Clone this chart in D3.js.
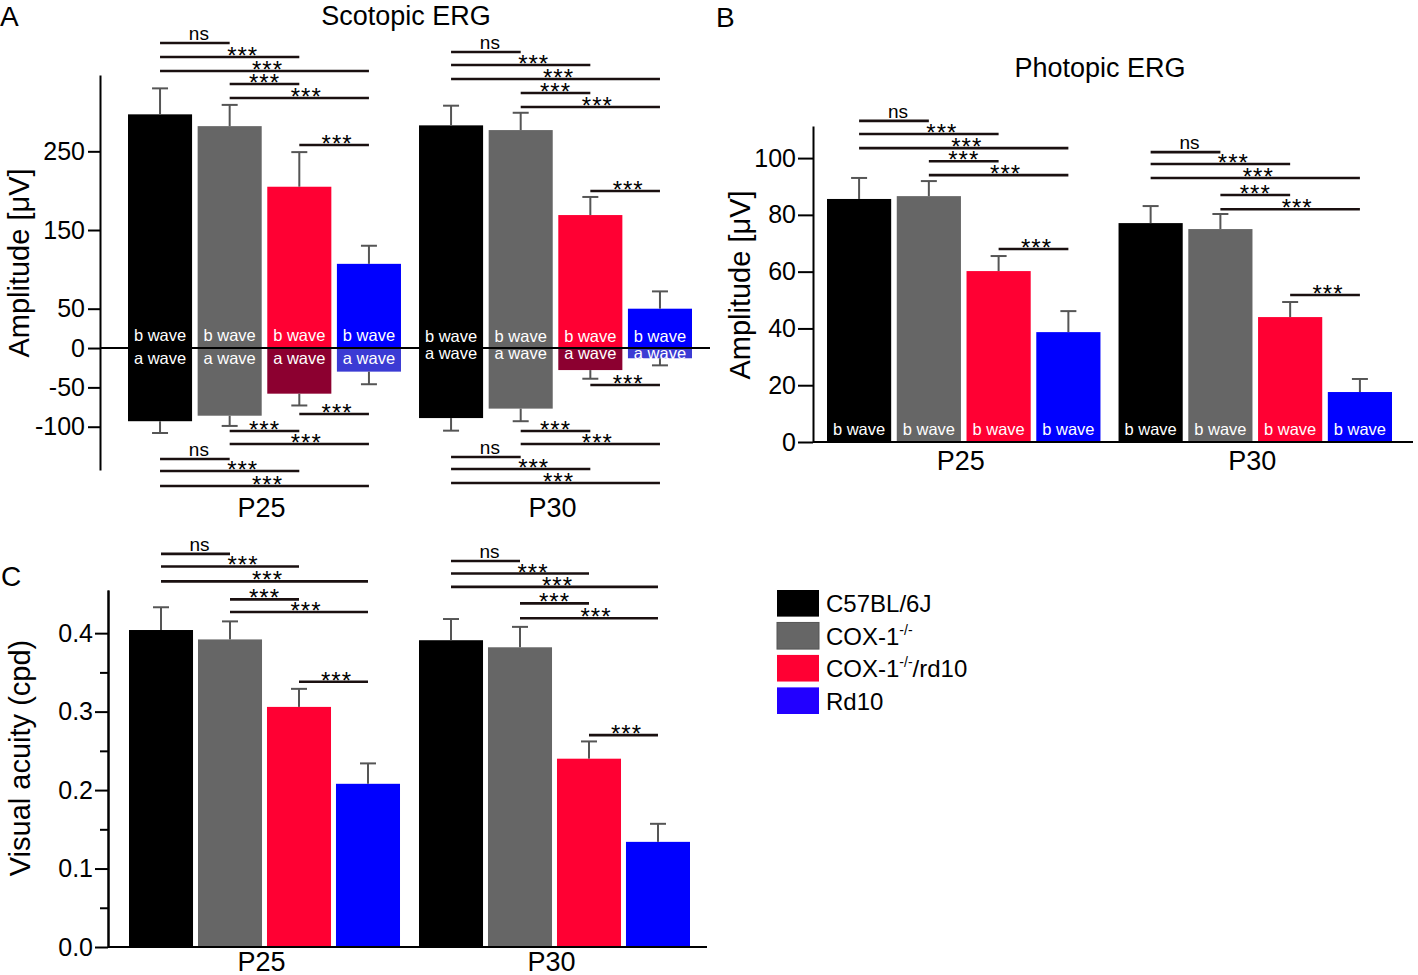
<!DOCTYPE html>
<html>
<head>
<meta charset="utf-8">
<script src="https://cdn.jsdelivr.net/npm/d3@7"></script>
<style>
  body { margin: 0; background: #fff; }
  text { font-family: "Liberation Sans", Arial, sans-serif; }
</style>
</head>
<body>
<script>
// groups, strains, colours
var groups = ["P25", "P30"];
var strains = ["C57BL/6J", "COX-1", "COX-1", "Rd10"];
var strainSup = ["", "-/-", "-/-", ""];
var strainTail = ["", "", "/rd10", ""];
var barColors = ["#000000", "#666666", "#ff0033", "#0000ff"];
var aWaveColors = ["#000000", "#666666", "#8c0030", "#3b3bd4"];
var legendColors = ["#000000", "#666666", "#ff0033", "#2200ff"];

// Scotopic ERG (uV), one row per group
var scotB = [[297, 282, 205, 107], [283, 277, 169, 50]];
var scotBErr = [[33, 27, 44, 23], [25, 22, 23, 22]];
var scotA = [[-93, -86, -58, -30], [-89, -77, -28, -13]];
var scotAErr = [[15, 13, 15, 16], [16, 16, 11, 9]];

// Photopic ERG b wave (uV)
var photB = [[85.6, 86.6, 60.2, 38.7], [77.1, 75.0, 44.0, 17.6]];
var photBErr = [[7.4, 5.3, 5.3, 7.4], [6.0, 5.3, 5.3, 4.6]];

// Visual acuity (cpd)
var acuity = [[0.404, 0.392, 0.306, 0.208], [0.391, 0.382, 0.240, 0.134]];
var acuityErr = [[0.029, 0.023, 0.023, 0.026], [0.027, 0.026, 0.022, 0.023]];

// pairwise comparisons: [strain i, strain j, label]
var comparisons = [[0, 1, "ns"], [0, 2, "***"], [0, 3, "***"], [1, 2, "***"], [1, 3, "***"], [2, 3, "***"]];
// bracket heights in data units, same order as comparisons
var scotTopLevels = [[387.6, 369.8, 352.1, 335.5, 317.7, 258], [376.2, 359.7, 341.9, 324.2, 306.3, 199.6]];
var scotBottomLevels = [[-141, -156.3, -175.3, -105.4, -122, -83.8], [-138.5, -153.7, -171.5, -105.4, -122, -47]];
var photLevels = [[113.1, 108.5, 103.5, 98.9, 94.0, 68.0], [102.1, 97.9, 93.0, 87.0, 82.0, 51.8]];
var acuityLevels = [[0.501, 0.485, 0.466, 0.443, 0.427, 0.338], [0.492, 0.476, 0.459, 0.438, 0.419, 0.270]];

var scotTicks = [250, 150, 50, 0, -50, -100];
var photTicks = [0, 20, 40, 60, 80, 100];
var acuityTicks = [0, 0.1, 0.2, 0.3, 0.4];
var acuityMinor = [0.05, 0.15, 0.25, 0.35];

var labelShift = [4, 13, 3, 0, 7, 3];

var svg = d3.select("body").append("svg")
    .attr("width", 1418)
    .attr("height", 975);

function center(xo, xi, g, s) {
    return xo(groups[g]) + xi(s) + xi.bandwidth() / 2;
}

function drawBars(g, xo, xi, y, values, errs, colors) {
    groups.forEach(function(grp, gi) {
        values[gi].forEach(function(v, si) {
            var x = xo(grp) + xi(si);
            g.append("rect")
                .attr("x", x)
                .attr("y", Math.min(y(0), y(v)))
                .attr("width", xi.bandwidth())
                .attr("height", Math.abs(y(v) - y(0)))
                .attr("fill", colors[si]);
        });
    });
}

function drawErrors(g, xo, xi, y, values, errs) {
    groups.forEach(function(grp, gi) {
        values[gi].forEach(function(v, si) {
            var cx = center(xo, xi, gi, si);
            var end = v + (v < 0 ? -errs[gi][si] : errs[gi][si]);
            g.append("line")
                .attr("x1", cx).attr("x2", cx)
                .attr("y1", y(v)).attr("y2", y(end))
                .attr("stroke", "#555").attr("stroke-width", 2);
            g.append("line")
                .attr("x1", cx - 8).attr("x2", cx + 8)
                .attr("y1", y(end)).attr("y2", y(end))
                .attr("stroke", "#555").attr("stroke-width", 2);
        });
    });
}

function drawBrackets(g, xo, xi, y, levels) {
    groups.forEach(function(grp, gi) {
        comparisons.forEach(function(c, k) {
            var x1 = center(xo, xi, gi, c[0]);
            var x2 = center(xo, xi, gi, c[1]);
            var yy = y(levels[gi][k]);
            g.append("line")
                .attr("x1", x1).attr("x2", x2)
                .attr("y1", yy).attr("y2", yy)
                .attr("stroke", "#1a1010").attr("stroke-width", 2.6);
            var t = g.append("text")
                .attr("x", (x1 + x2) / 2 + labelShift[k])
                .attr("text-anchor", "middle")
                .text(c[2]);
            if (c[2] == "ns") {
                t.attr("y", yy - 3).attr("font-size", 19);
            } else {
                t.attr("y", yy + 7).attr("font-size", 24).attr("letter-spacing", 1);
            }
        });
    });
}

function styleAxis(a, fs) {
    a.selectAll("path, line").attr("stroke", "#000").attr("stroke-width", 2);
    a.selectAll("text").attr("font-size", fs).attr("fill", "#000")
        .attr("font-family", "Liberation Sans, Arial, sans-serif");
}

function waveLabels(g, xo, xi, y, text, dys) {
    groups.forEach(function(grp, gi) {
        d3.range(4).forEach(function(si) {
            g.append("text")
                .attr("x", center(xo, xi, gi, si))
                .attr("y", y(0) + dys[gi])
                .attr("text-anchor", "middle")
                .attr("font-size", 16.5)
                .attr("fill", "#fff")
                .text(text);
        });
    });
}

function groupLabels(g, xo, yb) {
    groups.forEach(function(grp) {
        g.append("text")
            .attr("x", xo(grp) + xo.bandwidth() / 2 - 3)
            .attr("y", yb)
            .attr("text-anchor", "middle")
            .attr("font-size", 27)
            .text(grp);
    });
}

// ---------- A: Scotopic ERG
var gA = svg.append("g");
var xA = d3.scaleBand().domain(groups).range([128, 692]).paddingInner(0.062);
var xAi = d3.scaleBand().domain(d3.range(4)).range([0, xA.bandwidth()]).paddingInner(0.08);
var yA = d3.scaleLinear().domain([-155, 347]).range([470, 75]);

drawBars(gA, xA, xAi, yA, scotB, scotBErr, barColors);
drawBars(gA, xA, xAi, yA, scotA, scotAErr, aWaveColors);
drawErrors(gA, xA, xAi, yA, scotB, scotBErr);
drawErrors(gA, xA, xAi, yA, scotA, scotAErr);

gA.append("line")
    .attr("x1", 100).attr("x2", 710)
    .attr("y1", yA(0)).attr("y2", yA(0))
    .attr("stroke", "#000").attr("stroke-width", 2);

waveLabels(gA, xA, xAi, yA, "b wave", [-7, -6]);
var aw = gA.append("g");
waveLabels(aw, xA, xAi, yA, "a wave", [16, 11]);

drawBrackets(gA, xA, xAi, yA, scotTopLevels);
drawBrackets(gA, xA, xAi, yA, scotBottomLevels);

var axA = gA.append("g").attr("transform", "translate(100,0)")
    .call(d3.axisLeft(yA).tickValues(scotTicks).tickSize(12).tickPadding(3)
        .tickSizeOuter(0).tickFormat(function(d) { return String(d); }));
styleAxis(axA, 25);

gA.append("text")
    .attr("transform", "translate(29," + 263 + ") rotate(-90)")
    .attr("text-anchor", "middle")
    .attr("font-size", 29)
    .text("Amplitude [μV]");
gA.append("text").attr("x", 406).attr("y", 25).attr("text-anchor", "middle")
    .attr("font-size", 27).text("Scotopic ERG");
groupLabels(gA, xA, 517);

// ---------- B: Photopic ERG
var gB = svg.append("g");
var xB = d3.scaleBand().domain(groups).range([827, 1392]).paddingInner(0.062);
var xBi = d3.scaleBand().domain(d3.range(4)).range([0, xB.bandwidth()]).paddingInner(0.08);
var yB = d3.scaleLinear().domain([0, 111.3]).range([442, 126]);

drawBars(gB, xB, xBi, yB, photB, photBErr, barColors);
drawErrors(gB, xB, xBi, yB, photB, photBErr);
waveLabels(gB, xB, xBi, yB, "b wave", [-7, -7]);
drawBrackets(gB, xB, xBi, yB, photLevels);

gB.append("line")
    .attr("x1", 813).attr("x2", 1413)
    .attr("y1", yB(0)).attr("y2", yB(0))
    .attr("stroke", "#000").attr("stroke-width", 2);
var axB = gB.append("g").attr("transform", "translate(813,0)")
    .call(d3.axisLeft(yB).tickValues(photTicks).tickSize(15).tickPadding(2).tickSizeOuter(0));
styleAxis(axB, 25);

gB.append("text")
    .attr("transform", "translate(750," + 285 + ") rotate(-90)")
    .attr("text-anchor", "middle")
    .attr("font-size", 29)
    .text("Amplitude [μV]");
gB.append("text").attr("x", 1100).attr("y", 77).attr("text-anchor", "middle")
    .attr("font-size", 27).text("Photopic ERG");
groupLabels(gB, xB, 470);

// ---------- C: Visual acuity
var gC = svg.append("g");
var xC = d3.scaleBand().domain(groups).range([129, 690]).paddingInner(0.0655);
var xCi = d3.scaleBand().domain(d3.range(4)).range([0, xC.bandwidth()]).paddingInner(0.072);
var yC = d3.scaleLinear().domain([0, 0.455]).range([947, 590]);

drawBars(gC, xC, xCi, yC, acuity, acuityErr, barColors);
drawErrors(gC, xC, xCi, yC, acuity, acuityErr);
drawBrackets(gC, xC, xCi, yC, acuityLevels);

gC.append("line")
    .attr("x1", 108).attr("x2", 707)
    .attr("y1", yC(0)).attr("y2", yC(0))
    .attr("stroke", "#000").attr("stroke-width", 2);
var axC = gC.append("g").attr("transform", "translate(108,0)")
    .call(d3.axisLeft(yC).tickValues(acuityTicks).tickSize(13).tickPadding(2)
        .tickSizeOuter(0).tickFormat(d3.format(".1f")));
styleAxis(axC, 25);
var axCm = gC.append("g").attr("transform", "translate(108,0)")
    .call(d3.axisLeft(yC).tickValues(acuityMinor).tickSize(8).tickSizeOuter(0).tickFormat(""));
styleAxis(axCm, 25);

gC.append("text")
    .attr("transform", "translate(30," + 758 + ") rotate(-90)")
    .attr("text-anchor", "middle")
    .attr("font-size", 29)
    .text("Visual acuity (cpd)");
groupLabels(gC, xC, 971);

// ---------- legend
var leg = svg.append("g");
var ly = d3.scaleBand().domain(d3.range(4)).range([590, 714]).paddingInner(0.18);
strains.forEach(function(s, i) {
    leg.append("rect")
        .attr("x", 777).attr("y", ly(i))
        .attr("width", 42).attr("height", ly.bandwidth())
        .attr("fill", legendColors[i])
        .attr("stroke", i == 1 ? "#555" : "none");
    var t = leg.append("text")
        .attr("x", 826)
        .attr("y", ly(i) + ly.bandwidth() / 2 + 9)
        .attr("font-size", 24)
        .text(s);
    if (strainSup[i]) {
        t.append("tspan").attr("font-size", 14).attr("dy", -10).text(strainSup[i]);
        t.append("tspan").attr("dy", 10).text(strainTail[i]);
    }
});

// panel letters
svg.append("text").attr("x", 0).attr("y", 26).attr("font-size", 28).text("A");
svg.append("text").attr("x", 716).attr("y", 27).attr("font-size", 28).text("B");
svg.append("text").attr("x", 1).attr("y", 586).attr("font-size", 28).text("C");
</script>
</body>
</html>
